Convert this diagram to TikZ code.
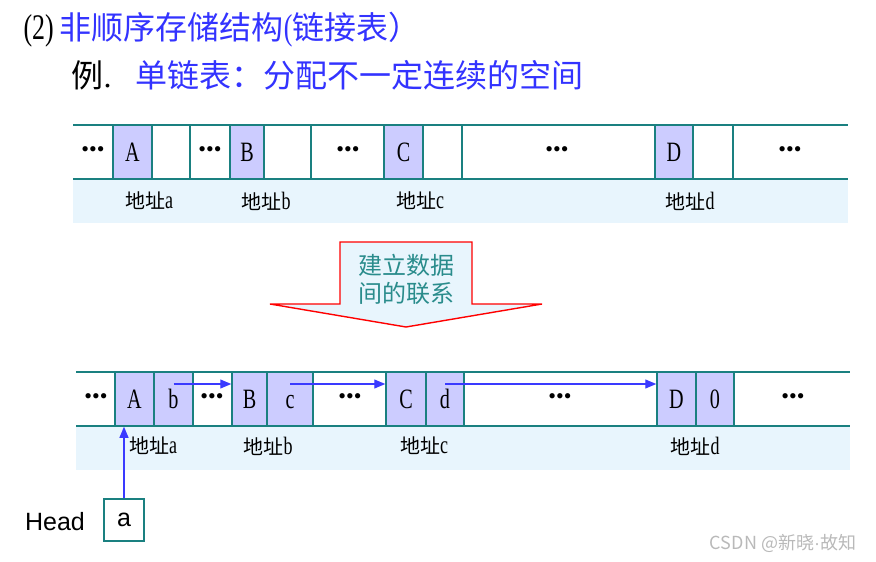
\documentclass[tikz,border=0pt]{standalone}
\usepackage{fontspec}
\setmainfont{Liberation Serif}
\newfontfamily\cjk{Noto Sans CJK SC}
\newfontfamily\arialfont{Liberation Sans}
\newfontfamily\narrowfont[FakeStretch=0.72]{Liberation Serif}
\usetikzlibrary{arrows.meta}
\definecolor{tealline}{HTML}{1A8080}
\definecolor{lavender}{HTML}{CCCCFF}
\definecolor{bandblue}{HTML}{E8F5FD}
\definecolor{ptrblue}{HTML}{3A3AFF}
\definecolor{titleblue}{HTML}{3333FF}
\definecolor{noteteal}{HTML}{2A8C8C}

\begin{document}
\begin{tikzpicture}[x=1pt, y=-1pt, cell/.style={draw=tealline, line width=1.5pt, minimum height=54pt, inner sep=0pt, text height=18pt, text depth=0pt, font=\narrowfont\fontsize{28}{28}\selectfont}, data/.style={cell, fill=lavender}, dots/.style={font=\fontsize{22}{22}\selectfont}, addr/.style={font=\fontsize{20}{20}\selectfont}, ptr/.style={ptrblue, line width=1.1pt, -{Triangle[length=11pt,width=9pt]}}, rail/.style={tealline, line width=1.5pt}]
\useasboundingbox (0,0) rectangle (876,562);
\node[anchor=base west, font=\fontsize{32}{32}\selectfont] (title) at (20,39) {{\narrowfont\fontsize{36}{36}\selectfont(2)}\hspace{6pt}{\color{titleblue}\cjk 非顺序存储结构{\narrowfont\fontsize{36}{36}\selectfont(}链接表）}};
\node[anchor=base west, font=\fontsize{32}{32}\selectfont] (example) at (68,87) {{\cjk 例}.\hspace{24pt}{\color{titleblue}\cjk 单链表：分配不一定连续的空间}};
\fill[bandblue] (73,179) rectangle (848,223);
\draw[rail] (73,125) -- (848,125) (73,179) -- (848,179);
\node[data, minimum width=39pt] (tA) at (132.5,152) {A};
\node[cell, minimum width=38pt] (tnext1) at (171,152) {};
\node[data, minimum width=34pt] (tB) at (247,152) {B};
\node[cell, minimum width=47pt] (tnext2) at (287.5,152) {};
\node[data, minimum width=39pt] (tC) at (403.5,152) {C};
\node[cell, minimum width=39pt] (tnext3) at (442.5,152) {};
\node[data, minimum width=38pt] (tD) at (674,152) {D};
\node[cell, minimum width=40pt] (tnext4) at (713,152) {};
\node[dots] (tdots1) at (93,152) {•••};
\node[dots] (tdots2) at (210,152) {•••};
\node[dots] (tdots3) at (348,152) {•••};
\node[dots] (tdots4) at (557,152) {•••};
\node[dots] (tdots5) at (790,152) {•••};
\node[addr] (taddra) at (149,201) {{\cjk 地址}{\narrowfont\fontsize{25}{25}\selectfont a}};
\node[addr] (taddrb) at (266,201) {{\cjk 地址}{\narrowfont\fontsize{25}{25}\selectfont b}};
\node[addr] (taddrc) at (420,201) {{\cjk 地址}{\narrowfont\fontsize{25}{25}\selectfont c}};
\node[addr] (taddrd) at (690,201) {{\cjk 地址}{\narrowfont\fontsize{25}{25}\selectfont d}};
\draw[red, line width=1.4pt, fill=bandblue] (340,242) -- (472,242) -- (472,304) -- (542,304) -- (406,327) -- (270,304) -- (340,304) -- cycle;
\node[align=center, text=noteteal, font=\cjk\fontsize{24}{28}\selectfont] (link) at (406,279) {建立数据\\间的联系};
\fill[bandblue] (76,426) rectangle (850,470);
\draw[rail] (76,372) -- (850,372) (76,426) -- (850,426);
\node[data, minimum width=39pt] (bA) at (134.5,399) {A};
\node[data, minimum width=39pt] (bb) at (173.5,399) {b};
\node[data, minimum width=35pt] (bB) at (249.5,399) {B};
\node[data, minimum width=46pt] (bc) at (290,399) {c};
\node[data, minimum width=40pt] (bC) at (406,399) {C};
\node[data, minimum width=38pt] (bd) at (445,399) {d};
\node[data, minimum width=39pt] (bD) at (676.5,399) {D};
\node[data, minimum width=38pt] (bnull) at (715,399) {0};
\node[dots] (bdots1) at (96,399) {•••};
\node[dots] (bdots2) at (212,399) {•••};
\node[dots] (bdots3) at (350,399) {•••};
\node[dots] (bdots4) at (560,399) {•••};
\node[dots] (bdots5) at (793,399) {•••};
\node[addr] (baddra) at (153,446) {{\cjk 地址}{\narrowfont\fontsize{25}{25}\selectfont a}};
\node[addr] (baddrb) at (268,446) {{\cjk 地址}{\narrowfont\fontsize{25}{25}\selectfont b}};
\node[addr] (baddrc) at (424,446) {{\cjk 地址}{\narrowfont\fontsize{25}{25}\selectfont c}};
\node[addr] (baddrd) at (695,446) {{\cjk 地址}{\narrowfont\fontsize{25}{25}\selectfont d}};
\draw[ptr] ([yshift=15pt]bb.center) -- ([yshift=15pt]bB.west);
\draw[ptr] ([yshift=15pt]bc.center) -- ([yshift=15pt]bC.west);
\draw[ptr] ([yshift=15pt]bd.center) -- ([yshift=15pt]bD.west);
\node[font=\arialfont\fontsize{25}{25}\selectfont] (headlabel) at (55,522) {Head};
\node[draw=tealline, line width=1.5pt, minimum width=40pt, minimum height=42pt, inner sep=0pt, font=\arialfont\fontsize{25}{25}\selectfont] (head) at (124,520) {a};
\draw[ptr] (head.north) -- (head.north |- bA.south);
\node[text=gray!55, font=\cjk\fontsize{18}{18}\selectfont] (mark) at (783,543) {CSDN @新晓{\arialfont ·}故知};
\end{tikzpicture}
\end{document}
